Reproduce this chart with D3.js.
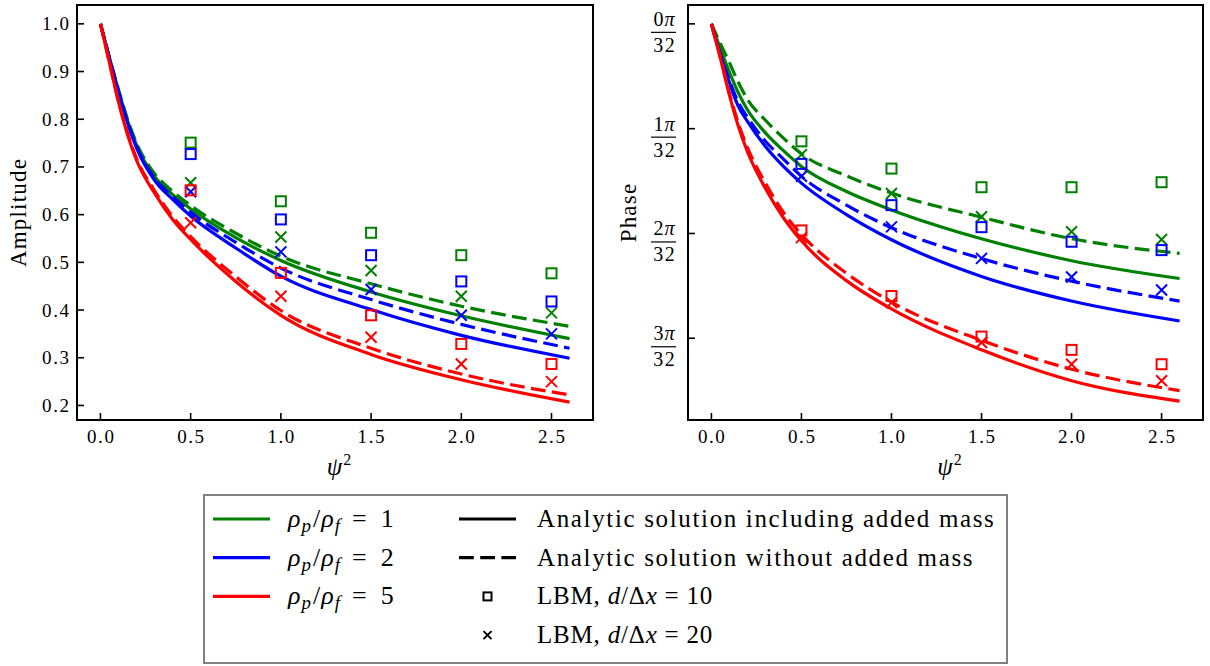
<!DOCTYPE html>
<html>
<head>
<meta charset="utf-8">
<script src="https://cdn.jsdelivr.net/npm/d3@7"></script>
<style>
  html, body { margin: 0; padding: 0; background: #fff; }
  svg { display: block; }
  text { font-family: "Liberation Serif", "Times New Roman", serif; fill: #000; }
</style>
</head>
<body>
<svg id="chart" width="1210" height="666"></svg>
<script>
// ---------------- data ----------------
const xs = [0, 0.05, 0.1, 0.15, 0.2, 0.3, 0.4, 0.5, 0.75, 1.0, 1.5, 2.0, 2.6];

// Amplitude, analytic
const ampSolid1  = [1.0, 0.928, 0.860, 0.797, 0.746, 0.680, 0.642, 0.612, 0.552, 0.504, 0.438, 0.388, 0.340];
const ampDashed1 = [1.0, 0.929, 0.862, 0.800, 0.750, 0.686, 0.649, 0.619, 0.561, 0.513, 0.455, 0.408, 0.366];
const ampSolid2  = [1.0, 0.927, 0.857, 0.792, 0.740, 0.672, 0.632, 0.597, 0.530, 0.471, 0.401, 0.347, 0.299];
const ampDashed2 = [1.0, 0.927, 0.858, 0.794, 0.743, 0.677, 0.638, 0.605, 0.542, 0.488, 0.422, 0.370, 0.320];
const ampSolid5  = [1.0, 0.918, 0.836, 0.768, 0.714, 0.645, 0.590, 0.548, 0.460, 0.389, 0.307, 0.254, 0.207];
const ampDashed5 = [1.0, 0.919, 0.838, 0.771, 0.718, 0.650, 0.596, 0.554, 0.470, 0.399, 0.320, 0.266, 0.222];

// Phase, analytic (in units of pi/32)
const phSolid1  = [0, 0.24, 0.46, 0.66, 0.82, 1.04, 1.21, 1.36, 1.60, 1.775, 2.05, 2.26, 2.43];
const phDashed1 = [0, 0.19, 0.37, 0.56, 0.72, 0.92, 1.09, 1.24, 1.45, 1.615, 1.845, 2.05, 2.19];
const phSolid2  = [0, 0.30, 0.56, 0.79, 0.93, 1.17, 1.36, 1.52, 1.82, 2.06, 2.41, 2.645, 2.835];
const phDashed2 = [0, 0.29, 0.54, 0.75, 0.89, 1.12, 1.29, 1.455, 1.73, 1.945, 2.24, 2.455, 2.645];
const phSolid5  = [0, 0.33, 0.68, 0.98, 1.22, 1.57, 1.85, 2.07, 2.45, 2.72, 3.11, 3.405, 3.60];
const phDashed5 = [0, 0.32, 0.66, 0.95, 1.18, 1.52, 1.80, 2.01, 2.38, 2.655, 3.02, 3.295, 3.50];

// LBM points
const lbmX = [0.5, 1.0, 1.5, 2.0, 2.5];
const ampLBM10_1 = [0.751, 0.628, 0.562, 0.515, 0.477];
const ampLBM20_1 = [0.667, 0.553, 0.483, 0.429, 0.394];
const ampLBM10_2 = [0.727, 0.590, 0.515, 0.460, 0.418];
const ampLBM20_2 = [0.648, 0.522, 0.443, 0.389, 0.350];
const ampLBM10_5 = [0.651, 0.478, 0.389, 0.329, 0.287];
const ampLBM20_5 = [0.583, 0.429, 0.343, 0.287, 0.250];

const phLBM10_1 = [1.121, 1.381, 1.559, 1.559, 1.511];
const phLBM20_1 = [1.248, 1.619, 1.841, 1.984, 2.057];
const phLBM10_2 = [1.336, 1.730, 1.940, 2.079, 2.159];
const phLBM20_2 = [1.454, 1.937, 2.238, 2.416, 2.540];
const phLBM10_5 = [1.971, 2.597, 2.984, 3.111, 3.248];
const phLBM20_5 = [2.040, 2.660, 3.041, 3.248, 3.406];

const xTicks = [0.0, 0.5, 1.0, 1.5, 2.0, 2.5];
const ampTicks = [0.2, 0.3, 0.4, 0.5, 0.6, 0.7, 0.8, 0.9, 1.0];
const phaseTicks = [0, 1, 2, 3];
const phaseTickNum = ["0", "1", "2", "3"];
const phaseTickDen = "32";

const densities = ["1", "2", "5"];
const colors = ["#008000", "#0000ff", "#ff0000"];

// ---------------- drawing ----------------
const svg = d3.select("#chart");
const DASH = "14.8,6.4";
const LW = 3.2;
const TFS = 19;     // tick font size
const TLS = 1.6;    // tick letter spacing

function panel(cfg) {
  const g = svg.append("g");
  const x = d3.scaleLinear().domain([-0.13, 2.73]).range([cfg.left, cfg.right]);
  const y = d3.scaleLinear().domain(cfg.ydom).range([cfg.bottom, cfg.top]);
  const line = d3.line().x(d => x(d[0])).y(d => y(d[1])).curve(d3.curveMonotoneX);

  const clip = "clip" + cfg.id;
  svg.append("clipPath").attr("id", clip).append("rect")
    .attr("x", cfg.left).attr("y", cfg.top)
    .attr("width", cfg.right - cfg.left).attr("height", cfg.bottom - cfg.top);
  const plot = g.append("g").attr("clip-path", `url(#${clip})`);

  cfg.series.forEach((s, i) => {
    plot.append("path").datum(xs.map((v, k) => [v, s.solid[k]]))
      .attr("d", line).attr("fill", "none").attr("stroke", colors[i]).attr("stroke-width", LW);
    plot.append("path").datum(xs.map((v, k) => [v, s.dashed[k]]))
      .attr("d", line).attr("fill", "none").attr("stroke", colors[i]).attr("stroke-width", LW)
      .attr("stroke-dasharray", DASH);
    plot.selectAll(null).data(lbmX.map((v, k) => [v, s.m10[k]])).enter().append("rect")
      .attr("x", d => x(d[0]) - 5).attr("y", d => y(d[1]) - 5)
      .attr("width", 10).attr("height", 10)
      .attr("fill", "none").attr("stroke", colors[i]).attr("stroke-width", 2);
    plot.selectAll(null).data(lbmX.map((v, k) => [v, s.m20[k]])).enter().append("path")
      .attr("d", d => {
        const cx = x(d[0]), cy = y(d[1]), r = 5.5;
        return `M${cx - r},${cy - r}L${cx + r},${cy + r}M${cx - r},${cy + r}L${cx + r},${cy - r}`;
      })
      .attr("fill", "none").attr("stroke", colors[i]).attr("stroke-width", 2);
  });

  const tg = g.append("g");
  xTicks.forEach(t => {
    tg.append("line").attr("x1", x(t)).attr("x2", x(t))
      .attr("y1", cfg.bottom).attr("y2", cfg.bottom - 7)
      .attr("stroke", "#000").attr("stroke-width", 1.6);
    tg.append("text").attr("x", x(t) + TLS / 2).attr("y", cfg.bottom + 16)
      .attr("text-anchor", "middle").attr("dominant-baseline", "central")
      .attr("letter-spacing", TLS)
      .attr("font-size", TFS).text(t.toFixed(1));
  });
  cfg.yticks.forEach((t, k) => {
    tg.append("line").attr("x1", cfg.left).attr("x2", cfg.left + 7)
      .attr("y1", y(t)).attr("y2", y(t))
      .attr("stroke", "#000").attr("stroke-width", 1.6);
    cfg.ylabel(tg, t, k, y(t));
  });

  g.append("rect").attr("x", cfg.left).attr("y", cfg.top)
    .attr("width", cfg.right - cfg.left).attr("height", cfg.bottom - cfg.top)
    .attr("fill", "none").attr("stroke", "#000").attr("stroke-width", 2);

  const xl = g.append("text").attr("x", (cfg.left + cfg.right) / 2 + 4).attr("y", 475)
    .attr("text-anchor", "middle").attr("font-size", 25);
  xl.append("tspan").attr("font-style", "italic").text("ψ");
  xl.append("tspan").attr("font-size", 16).attr("dy", -10).attr("dx", 1).text("2");

  g.append("text")
    .attr("transform", `translate(${cfg.ylabX},${(cfg.top + cfg.bottom) / 2}) rotate(-90)`)
    .attr("text-anchor", "middle").attr("dominant-baseline", "central")
    .attr("letter-spacing", 1.2)
    .attr("font-size", 23).text(cfg.ytitle);
}

panel({
  id: "A", left: 77, right: 593, top: 5, bottom: 420,
  ydom: [0.1695, 1.0395], yticks: ampTicks, ytitle: "Amplitude", ylabX: 18,
  series: [
    { solid: ampSolid1, dashed: ampDashed1, m10: ampLBM10_1, m20: ampLBM20_1 },
    { solid: ampSolid2, dashed: ampDashed2, m10: ampLBM10_2, m20: ampLBM20_2 },
    { solid: ampSolid5, dashed: ampDashed5, m10: ampLBM10_5, m20: ampLBM20_5 }
  ],
  ylabel: (tg, t, k, yy) => {
    tg.append("text").attr("x", 69 + TLS).attr("y", yy)
      .attr("text-anchor", "end").attr("dominant-baseline", "central")
      .attr("letter-spacing", TLS)
      .attr("font-size", TFS).text(t.toFixed(1));
  }
});

panel({
  id: "P", left: 688, right: 1203, top: 5, bottom: 420,
  ydom: [3.78, -0.18], yticks: phaseTicks, ytitle: "Phase", ylabX: 628,
  series: [
    { solid: phSolid1, dashed: phDashed1, m10: phLBM10_1, m20: phLBM20_1 },
    { solid: phSolid2, dashed: phDashed2, m10: phLBM10_2, m20: phLBM20_2 },
    { solid: phSolid5, dashed: phDashed5, m10: phLBM10_5, m20: phLBM20_5 }
  ],
  ylabel: (tg, t, k, yy) => {
    const cx = 664;
    const num = tg.append("text").attr("x", cx).attr("y", yy - 5)
      .attr("text-anchor", "middle").attr("dominant-baseline", "central").attr("font-size", TFS + 1);
    num.append("tspan").text(phaseTickNum[k]);
    num.append("tspan").attr("font-style", "italic").attr("dx", 1).text("π");
    tg.append("line").attr("x1", 651).attr("x2", 676).attr("y1", yy + 8.5).attr("y2", yy + 8.5)
      .attr("stroke", "#000").attr("stroke-width", 1.2);
    tg.append("text").attr("x", cx + 0.8).attr("y", yy + 21)
      .attr("text-anchor", "middle").attr("dominant-baseline", "central")
      .attr("letter-spacing", TLS)
      .attr("font-size", TFS + 1).text(phaseTickDen);
  }
});

// ---------------- legend ----------------
const lg = svg.append("g");
lg.append("rect").attr("x", 204).attr("y", 495).attr("width", 803).attr("height", 168)
  .attr("fill", "#fff").attr("stroke", "#808080").attr("stroke-width", 2);
const rowY = k => 519 + k * 38.7;
const LFS = 25;

densities.forEach((d, i) => {
  lg.append("line").attr("x1", 213).attr("x2", 270).attr("y1", rowY(i)).attr("y2", rowY(i))
    .attr("stroke", colors[i]).attr("stroke-width", LW);
  const t = lg.append("text").attr("x", 288).attr("y", rowY(i) + 8).attr("font-size", 26);
  t.append("tspan").attr("font-style", "italic").text("ρ");
  t.append("tspan").attr("font-style", "italic").attr("font-size", 19).attr("dy", 5).attr("dx", 1).text("p");
  t.append("tspan").attr("dy", -5).attr("dx", 2).text("/");
  t.append("tspan").attr("font-style", "italic").attr("dx", 1).text("ρ");
  t.append("tspan").attr("font-style", "italic").attr("font-size", 19).attr("dy", 5).attr("dx", 1).text("f");
  t.append("tspan").attr("dy", -5).attr("dx", 12).text("=");
  t.append("tspan").attr("dx", 14).text(d);
});

const col2 = [
  { kind: "solid", label: [["Analytic solution including added mass", false]] },
  { kind: "dashed", label: [["Analytic solution without added mass", false]] },
  { kind: "square", label: [["LBM, ", false], ["d", true], ["/Δ", false], ["x", true], [" = 10", false]] },
  { kind: "cross", label: [["LBM, ", false], ["d", true], ["/Δ", false], ["x", true], [" = 20", false]] }
];
col2.forEach((e, k) => {
  const yy = rowY(k);
  if (e.kind === "solid" || e.kind === "dashed") {
    const l = lg.append("line").attr("x1", 459).attr("x2", 516).attr("y1", yy).attr("y2", yy)
      .attr("stroke", "#000").attr("stroke-width", LW);
    if (e.kind === "dashed") l.attr("stroke-dasharray", DASH);
  } else if (e.kind === "square") {
    lg.append("rect").attr("x", 487.5 - 4).attr("y", yy - 4).attr("width", 8).attr("height", 8)
      .attr("fill", "none").attr("stroke", "#000").attr("stroke-width", 2);
  } else {
    const r = 4;
    lg.append("path").attr("d", `M${487.5 - r},${yy - r}L${487.5 + r},${yy + r}M${487.5 - r},${yy + r}L${487.5 + r},${yy - r}`)
      .attr("stroke", "#000").attr("stroke-width", 2);
  }
  const t = lg.append("text").attr("x", 537).attr("y", yy + 8).attr("font-size", LFS)
    .attr("letter-spacing", e.kind === "solid" || e.kind === "dashed" ? 1.65 : 0.8);
  e.label.forEach(([s, it]) => {
    const ts = t.append("tspan").text(s);
    if (it) ts.attr("font-style", "italic");
  });
});
</script>
</body>
</html>
